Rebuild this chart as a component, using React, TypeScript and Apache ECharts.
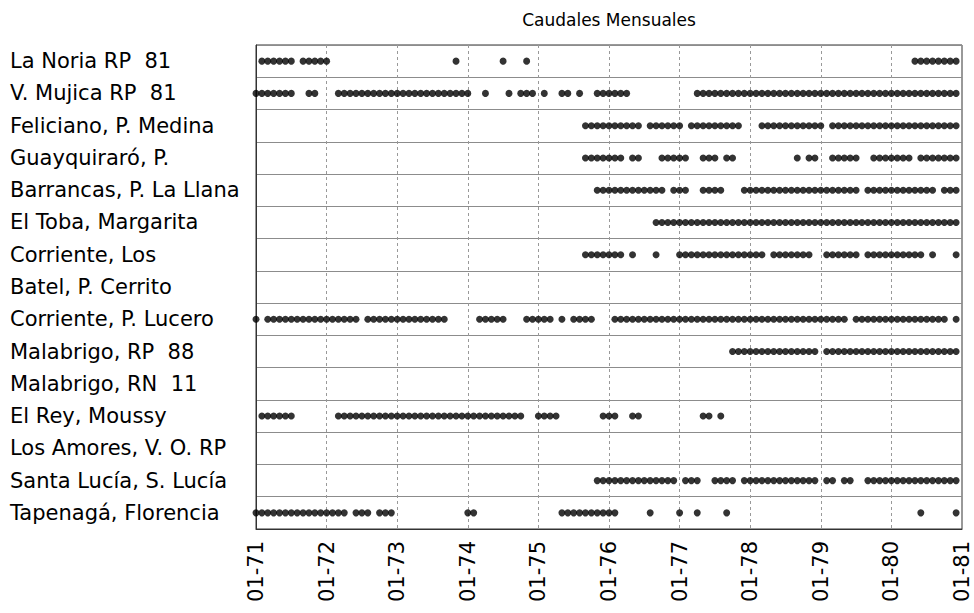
import React, { useEffect, useRef } from "react";
import * as echarts from "echarts";

// Station names (top to bottom)
const stations = [
  "La Noria RP  81",
  "V. Mujica RP  81",
  "Feliciano, P. Medina",
  "Guayquiraró, P.",
  "Barrancas, P. La Llana",
  "El Toba, Margarita",
  "Corriente, Los",
  "Batel, P. Cerrito",
  "Corriente, P. Lucero",
  "Malabrigo, RP  88",
  "Malabrigo, RN  11",
  "El Rey, Moussy",
  "Los Amores, V. O. RP",
  "Santa Lucía, S. Lucía",
  "Tapenagá, Florencia",
];

// Months with data, counted from January 1971 (0 = 01-71)
const laNoria = [1, 2, 3, 4, 5, 6, 8, 9, 10, 11, 12, 34, 42, 46, 112, 113, 114, 115, 116, 117, 118, 119];
const vMujica = [
  0, 1, 2, 3, 4, 5, 6, 9, 10, 14, 15, 16, 17, 18, 19, 20, 21, 22, 23, 24, 25, 26, 27, 28, 29, 30, 31, 32, 33, 34, 35, 36,
  39, 43, 45, 46, 47, 49, 52, 53, 55, 58, 59, 60, 61, 62, 63, 75, 76, 77, 78, 79, 80, 81, 82, 83, 84, 85, 86, 87, 88, 89,
  90, 91, 92, 93, 94, 95, 96, 97, 98, 99, 100, 101, 102, 103, 104, 105, 106, 107, 108, 109, 110, 111, 112, 113, 114, 115,
  116, 117, 118, 119,
];
const feliciano = [
  56, 57, 58, 59, 60, 61, 62, 63, 64, 65, 67, 68, 69, 70, 71, 72, 74, 75, 76, 77, 78, 79, 80, 81, 82, 86, 87, 88, 89, 90,
  91, 92, 93, 94, 95, 96, 98, 99, 100, 101, 102, 103, 104, 105, 106, 107, 108, 109, 110, 111, 112, 113, 114, 115, 116,
  117, 118, 119,
];
const guayquiraro = [
  56, 57, 58, 59, 60, 61, 62, 64, 65, 69, 70, 71, 72, 73, 76, 77, 78, 80, 81, 92, 94, 95, 98, 99, 100, 101, 102, 105, 106,
  107, 108, 109, 110, 111, 113, 114, 115, 116, 117, 118, 119,
];
const barrancas = [
  58, 59, 60, 61, 62, 63, 64, 65, 66, 67, 68, 69, 71, 72, 73, 76, 77, 78, 79, 83, 84, 85, 86, 87, 88, 89, 90, 91, 92, 93,
  94, 95, 96, 97, 98, 99, 100, 101, 102, 104, 105, 106, 107, 108, 109, 110, 111, 112, 113, 114, 115, 117, 118, 119,
];
const elToba = [
  68, 69, 70, 71, 72, 73, 74, 75, 76, 77, 78, 79, 80, 81, 82, 83, 84, 85, 86, 87, 88, 89, 90, 91, 92, 93, 94, 95, 96, 97,
  98, 99, 100, 101, 102, 103, 104, 105, 106, 107, 108, 109, 110, 111, 112, 113, 114, 115, 116, 117, 118, 119,
];
const corrienteLos = [
  56, 57, 58, 59, 60, 61, 62, 64, 68, 72, 73, 74, 75, 76, 77, 78, 79, 80, 81, 82, 83, 84, 85, 86, 88, 89, 90, 91, 92, 93,
  94, 97, 98, 99, 100, 101, 102, 104, 105, 106, 107, 108, 109, 110, 111, 112, 113, 115, 119,
];
const batel: number[] = [];
const corrienteLucero = [
  0, 2, 3, 4, 5, 6, 7, 8, 9, 10, 11, 12, 13, 14, 15, 16, 17, 19, 20, 21, 22, 23, 24, 25, 26, 27, 28, 29, 30, 31, 32, 38,
  39, 40, 41, 42, 46, 47, 48, 49, 50, 52, 54, 55, 56, 57, 61, 62, 63, 64, 65, 66, 67, 68, 69, 70, 71, 72, 73, 74, 75, 76,
  77, 78, 79, 80, 81, 82, 83, 84, 85, 86, 87, 88, 89, 90, 91, 92, 93, 94, 95, 96, 97, 98, 99, 100, 102, 103, 104, 105,
  106, 107, 108, 109, 110, 111, 112, 113, 114, 115, 116, 117, 119,
];
const malabrigoRP88 = [
  81, 82, 83, 84, 85, 86, 87, 88, 89, 90, 91, 92, 93, 94, 95, 97, 98, 99, 100, 101, 102, 103, 104, 105, 106, 107, 108,
  109, 110, 111, 112, 113, 114, 115, 116, 117, 118, 119,
];
const malabrigoRN11: number[] = [];
const elRey = [
  1, 2, 3, 4, 5, 6, 14, 15, 16, 17, 18, 19, 20, 21, 22, 23, 24, 25, 26, 27, 28, 29, 30, 31, 32, 33, 34, 35, 36, 37, 38, 39,
  40, 41, 42, 43, 44, 45, 48, 49, 50, 51, 59, 60, 61, 64, 65, 76, 77, 79,
];
const losAmores: number[] = [];
const santaLucia = [
  58, 59, 60, 61, 62, 63, 64, 65, 66, 67, 68, 69, 70, 71, 73, 74, 75, 78, 79, 80, 81, 83, 84, 85, 86, 87, 88, 89, 90, 91,
  92, 93, 94, 95, 97, 98, 100, 101, 104, 105, 106, 107, 108, 109, 110, 111, 112, 113, 114, 115, 116, 117, 118, 119,
];
const tapenaga = [
  0, 1, 2, 3, 4, 5, 6, 7, 8, 9, 10, 11, 12, 13, 14, 15, 17, 18, 19, 21, 22, 23, 36, 37, 52, 53, 54, 55, 56, 57, 58, 59,
  60, 61, 67, 72, 75, 80, 113, 119,
];

const stationMonths = [
  laNoria,
  vMujica,
  feliciano,
  guayquiraro,
  barrancas,
  elToba,
  corrienteLos,
  batel,
  corrienteLucero,
  malabrigoRP88,
  malabrigoRN11,
  elRey,
  losAmores,
  santaLucia,
  tapenaga,
];

const tickLabels = ["01-71", "01-72", "01-73", "01-74", "01-75", "01-76", "01-77", "01-78", "01-79", "01-80", "01-81"];

const FONT = "'DejaVu Sans', sans-serif";

export default function App() {
  const ref = useRef<HTMLDivElement>(null);
  useEffect(() => {
    if (!ref.current) return;
    const chart = echarts.init(ref.current, null, { renderer: "svg" });
    const data: number[][] = [];
    stationMonths.forEach((months, row) => {
      months.forEach((m) => data.push([m, row]));
    });
    chart.setOption({
      animation: false,
      backgroundColor: "#ffffff",
      graphic: [
        {
          type: "text",
          x: 609,
          y: 20,
          style: {
            text: "Caudales Mensuales",
            font: `17px ${FONT}`,
            fill: "#000",
            textAlign: "center",
            textVerticalAlign: "middle",
          },
        },
      ],
      grid: {
        left: 256,
        right: 12,
        top: 45,
        bottom: 84,
        show: true,
        borderColor: "#333",
        borderWidth: 1,
        backgroundColor: "transparent",
      },
      xAxis: {
        type: "value",
        min: 0,
        max: 120,
        interval: 12,
        axisLine: { show: true, lineStyle: { color: "#333", width: 1 } },
        axisTick: { show: false },
        axisLabel: {
          rotate: 90,
          margin: 12,
          color: "#000",
          fontFamily: FONT,
          fontSize: 21,
          formatter: (v: number) => tickLabels[Math.round(v / 12)] ?? "",
        },
        splitLine: { show: true, lineStyle: { type: [3, 3], color: "#999", width: 1 } },
      },
      yAxis: {
        type: "category",
        data: stations,
        inverse: true,
        axisLine: { show: true, lineStyle: { color: "#333", width: 1 } },
        axisTick: { show: false },
        axisLabel: {
          align: "left",
          margin: 246,
          color: "#000",
          fontFamily: FONT,
          fontSize: 21,
        },
        splitLine: { show: true, lineStyle: { color: "#8c8c8c", width: 1 } },
      },
      series: [
        {
          type: "scatter",
          data,
          symbol: "circle",
          symbolSize: 7,
          itemStyle: { color: "#000" },
        },
      ],
    });
    return () => chart.dispose();
  }, []);
  return <div ref={ref} style={{ width: 974, height: 613, position: "absolute", left: 0, top: 0 }} />;
}
